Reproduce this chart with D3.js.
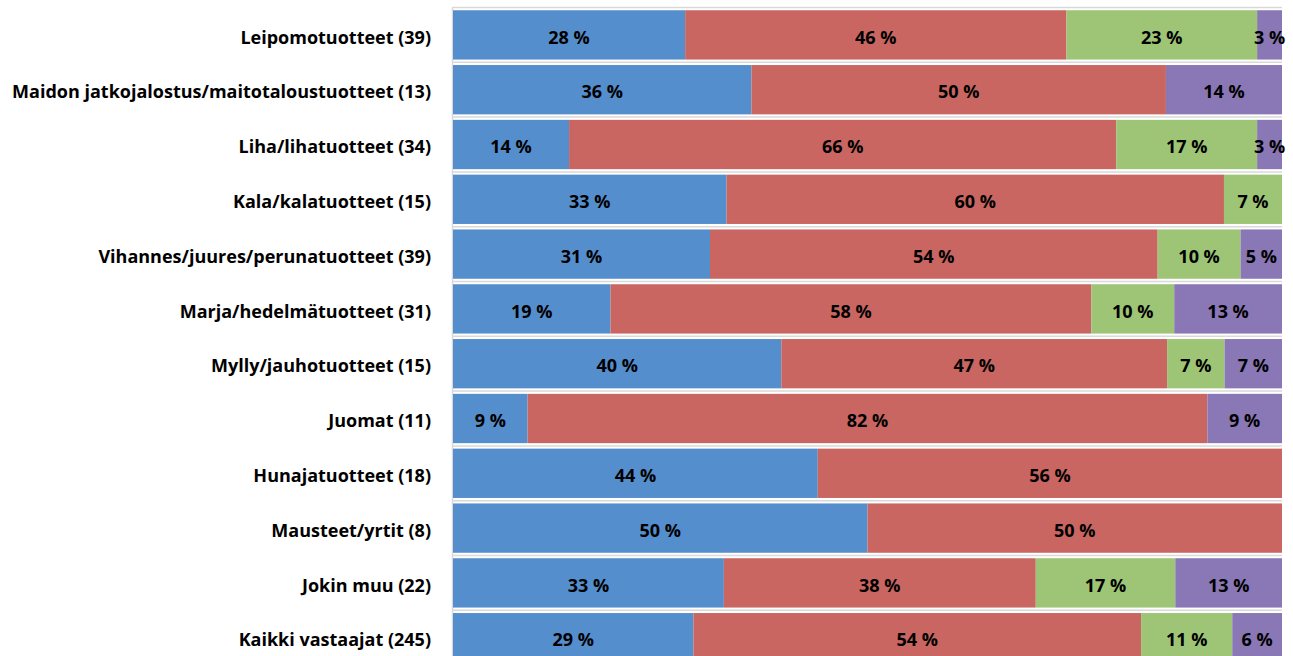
<!DOCTYPE html>
<html>
<head>
<meta charset="utf-8">
<script src="https://cdn.jsdelivr.net/npm/d3@7"></script>
<style>
  html, body { margin: 0; padding: 0; background: #fff; }
  svg { display: block; }
</style>
</head>
<body>
<svg id="chart" width="1293" height="656"></svg>
<script>
// Product groups with respondent counts
const categories = [
  "Leipomotuotteet (39)",
  "Maidon jatkojalostus/maitotaloustuotteet (13)",
  "Liha/lihatuotteet (34)",
  "Kala/kalatuotteet (15)",
  "Vihannes/juures/perunatuotteet (39)",
  "Marja/hedelmätuotteet (31)",
  "Mylly/jauhotuotteet (15)",
  "Juomat (11)",
  "Hunajatuotteet (18)",
  "Mausteet/yrtit (8)",
  "Jokin muu (22)",
  "Kaikki vastaajat (245)"
];

// Shares (%) per answer group
const series1 = [28, 36, 14, 33, 31, 19, 40, 9, 44, 50, 33, 29];
const series2 = [46, 50, 66, 60, 54, 58, 47, 82, 56, 50, 38, 54];
const series3 = [23, 0, 17, 7, 10, 10, 7, 0, 0, 0, 17, 11];
const series4 = [3, 14, 3, 0, 5, 13, 7, 9, 0, 0, 13, 6];

const seriesKeys = ["s1", "s2", "s3", "s4"];
const colors = ["#558ECD", "#CA6661", "#9EC575", "#8977B6"];

const rows = categories.map((c, i) => ({
  category: c,
  s1: series1[i], s2: series2[i], s3: series3[i], s4: series4[i]
}));

const svg = d3.select("#chart");

const plotLeft = 453, plotRight = 1282;
const plotTop = 7.5, step = 54.8;

const x = d3.scaleLinear().domain([0, 1]).range([plotLeft, plotRight]);
const y = d3.scaleBand()
  .domain(categories)
  .range([plotTop, plotTop + step * categories.length])
  .paddingInner(0.1)
  .paddingOuter(0.05);

const stack = d3.stack().keys(seriesKeys).offset(d3.stackOffsetExpand);
const stacked = stack(rows);

// Category separator gridlines
const gridYs = d3.range(categories.length + 1).map(i => y.range()[0] + i * y.step());
svg.append("g")
  .selectAll("line")
  .data(gridYs)
  .join("line")
  .attr("x1", plotLeft - 1)
  .attr("x2", plotRight)
  .attr("y1", d => d)
  .attr("y2", d => d)
  .attr("stroke", "#d9d9d9")
  .attr("stroke-width", 1.5);

// Left axis line
svg.append("line")
  .attr("x1", plotLeft - 0.5).attr("x2", plotLeft - 0.5)
  .attr("y1", plotTop).attr("y2", 656)
  .attr("stroke", "#d9d9d9")
  .attr("stroke-width", 1.5);

// Bars
const layers = svg.append("g")
  .selectAll("g")
  .data(stacked)
  .join("g")
  .attr("fill", (d, i) => colors[i]);

layers.selectAll("rect")
  .data(d => d.filter(p => p[1] - p[0] > 0))
  .join("rect")
  .attr("x", d => x(d[0]))
  .attr("y", d => y(d.data.category))
  .attr("width", d => x(d[1]) - x(d[0]))
  .attr("height", y.bandwidth());

// Value labels
const labels = svg.append("g")
  .attr("font-family", "'Open Sans', sans-serif")
  .attr("font-weight", "bold")
  .attr("font-size", 18)
  .attr("fill", "#000")
  .attr("text-anchor", "middle");

stacked.forEach(layer => {
  labels.selectAll(null)
    .data(layer.filter(p => p.data[layer.key] > 0))
    .join("text")
    .attr("x", d => (x(d[0]) + x(d[1])) / 2)
    .attr("y", d => y(d.data.category) + y.bandwidth() / 2)
    .attr("dy", "0.48em")
    .text(d => d.data[layer.key] + " %");
});

// Category labels
const yAxis = d3.axisLeft(y).tickSize(0).tickPadding(22);
const gAxis = svg.append("g")
  .attr("transform", `translate(${plotLeft},0)`)
  .call(yAxis);
gAxis.select(".domain").remove();
gAxis.selectAll("text")
  .attr("dy", "0.48em")
  .attr("font-family", "'Open Sans', sans-serif")
  .attr("font-weight", "bold")
  .attr("font-size", 18)
  .attr("fill", "#000");
</script>
</body>
</html>
